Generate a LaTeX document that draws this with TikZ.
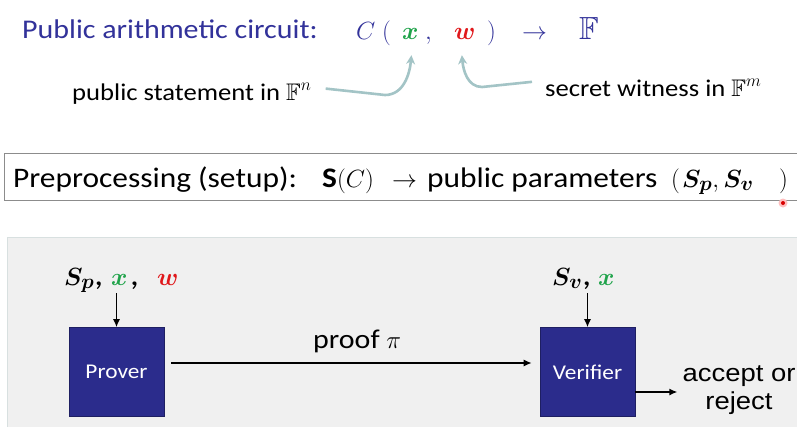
\documentclass[tikz,border=0pt]{standalone}
\usepackage{amsmath,amssymb,bm}
\usepackage{fontspec}
\setmainfont{Carlito}[FakeStretch=1.11]
\newfontfamily\arialf{Liberation Sans}[FakeStretch=1.12]
\usetikzlibrary{arrows.meta}
\definecolor{titleblue}{HTML}{32329A}
\definecolor{navybox}{HTML}{2B2C8C}
\definecolor{xgreen}{HTML}{1FA34A}
\definecolor{wred}{HTML}{E0181B}
\definecolor{hintcol}{HTML}{A3C4C6}
\definecolor{panelfill}{HTML}{F0F0F0}
\definecolor{panelline}{HTML}{D8E0E0}
\tikzset{
  txt/.style={inner sep=0pt, anchor=base west},
  titletxt/.style={txt, text=titleblue, font=\fontsize{27}{32}\selectfont},
  titlemath/.style={txt, text=titleblue, font=\fontsize{32}{36}\selectfont},
  bigmath/.style={txt, font=\fontsize{36}{40}\selectfont},
  hinttxt/.style={txt, font=\fontsize{24}{28}\selectfont},
  pretxt/.style={txt, font=\fontsize{28.3}{32}\selectfont},
  premath/.style={txt, font=\fontsize{29}{34}\selectfont},
  hint/.style={draw=hintcol, line width=2.6pt, -{Stealth[length=9pt,width=9pt]}},
  agent/.style={fill=navybox, draw=navybox!70!black, line width=0.6pt, minimum width=95pt, minimum height=89pt, text=white, font=\fontsize{21}{25}\selectfont, inner sep=0pt},
  arr/.style={draw=black, line width=1.4pt, -{Latex[length=8pt,width=7pt]}},
  inlbl/.style={txt, font=\fontsize{32}{36}\selectfont},
}
\begin{document}
\begin{tikzpicture}[x=1pt,y=-1pt]
\useasboundingbox (0,0) rectangle (797,426);
\fill[white] (0,0) rectangle (797,426);

% title row
\node[titletxt] (title) at (22,38) {Public arithmetic circuit:};
\node[titlemath] (fC) at (356,39) {$C$};
\node[titlemath] (fop) at (382,39) {$($};
\node[bigmath, text=xgreen] (fx) at (402,39) {$\bm{x}$};
\node[titlemath] (fcomma) at (425,39) {$,$};
\node[bigmath, text=wred] (fw) at (454,39) {$\bm{w}$};
\node[titlemath] (fcp) at (487,39) {$)$};
\node[titlemath] (farr) at (522,39) {$\to$};
\node[titlemath] (fF) at (579,39) {$\mathbb{F}$};

\node[hinttxt] (stmt) at (72,100) {public statement in $\mathbb{F}^n$};
\node[hinttxt] (wit) at (545,96) {secret witness in $\mathbb{F}^m$};

\draw[hint] ([xshift=14pt,yshift=5pt]stmt.east) -- (385,95) to[out=0,in=-95] ([xshift=1pt,yshift=-16pt]fx.south);
\draw[hint] ([xshift=-13pt,yshift=6pt]wit.west) -- (482,87) to[out=180,in=-85] ([xshift=-3pt,yshift=-16pt]fw.south);

% preprocessing
\node[draw=black!45, line width=1.1pt, anchor=north west, minimum width=800pt, minimum height=47pt, inner sep=0pt] (pre) at (4,153) {};
\node[pretxt] (prelbl) at (13,187) {Preprocessing (setup):};
\node[pretxt] (sc) at (322,187) {{\bfseries S}\fontsize{30}{34}\selectfont$(C)$};
\node[pretxt] (prearr) at (392,187) {$\to$};
\node[pretxt] (pp) at (427,187) {public parameters};
\node[premath] (spo) at (671,187) {$($};
\node[premath] (spv) at (682,187) {$\bm{S_p},\bm{S_v}$};
\node[premath] (spc) at (779,187) {$)$};
\fill[red!25] (783,203) circle (4.5pt);
\fill[red!85!black] (783,203) circle (2pt);

% panel
\node[fill=panelfill, draw=panelline, line width=1pt, anchor=north west, minimum width=800pt, minimum height=200pt, inner sep=0pt] (panel) at (7,237) {};

\node[agent] (prover) at (116.5,372) {Prover};
\node[agent] (verifier) at (587.5,372) {Verifier};

\node[inlbl] (pS) at (64,285) {$\bm{S_p}$,};
\node[inlbl, text=xgreen] (px) at (111,285) {$\bm{x}$};
\node[inlbl] (pc) at (130,285) {,};
\node[inlbl, text=wred] (pw) at (157,285) {$\bm{w}$};
\node[inlbl] (vS) at (552,285) {$\bm{S_v}$,};
\node[inlbl, text=xgreen] (vx) at (598,285) {$\bm{x}$};

\draw[arr] ([yshift=-8pt]prover.north |- px.south) -- (prover.north);
\draw[arr] ([yshift=-8pt]verifier.north |- vx.south) -- (verifier.north);

\draw[arr] ([xshift=7pt,yshift=9pt]prover.east) -- ([xshift=-8pt,yshift=9pt]verifier.west);
\node[txt, font=\fontsize{27}{32}\selectfont] (prooflbl) at (313,348) {proof $\pi$};

\node[font=\arialf\fontsize{24.5}{28}\selectfont, align=center, inner sep=5pt] (out) at (739,390) {accept or\\reject};
\draw[arr] ([yshift=-20pt]verifier.east) -- ([yshift=-20pt]verifier.east -| out.west);
\end{tikzpicture}
\end{document}
